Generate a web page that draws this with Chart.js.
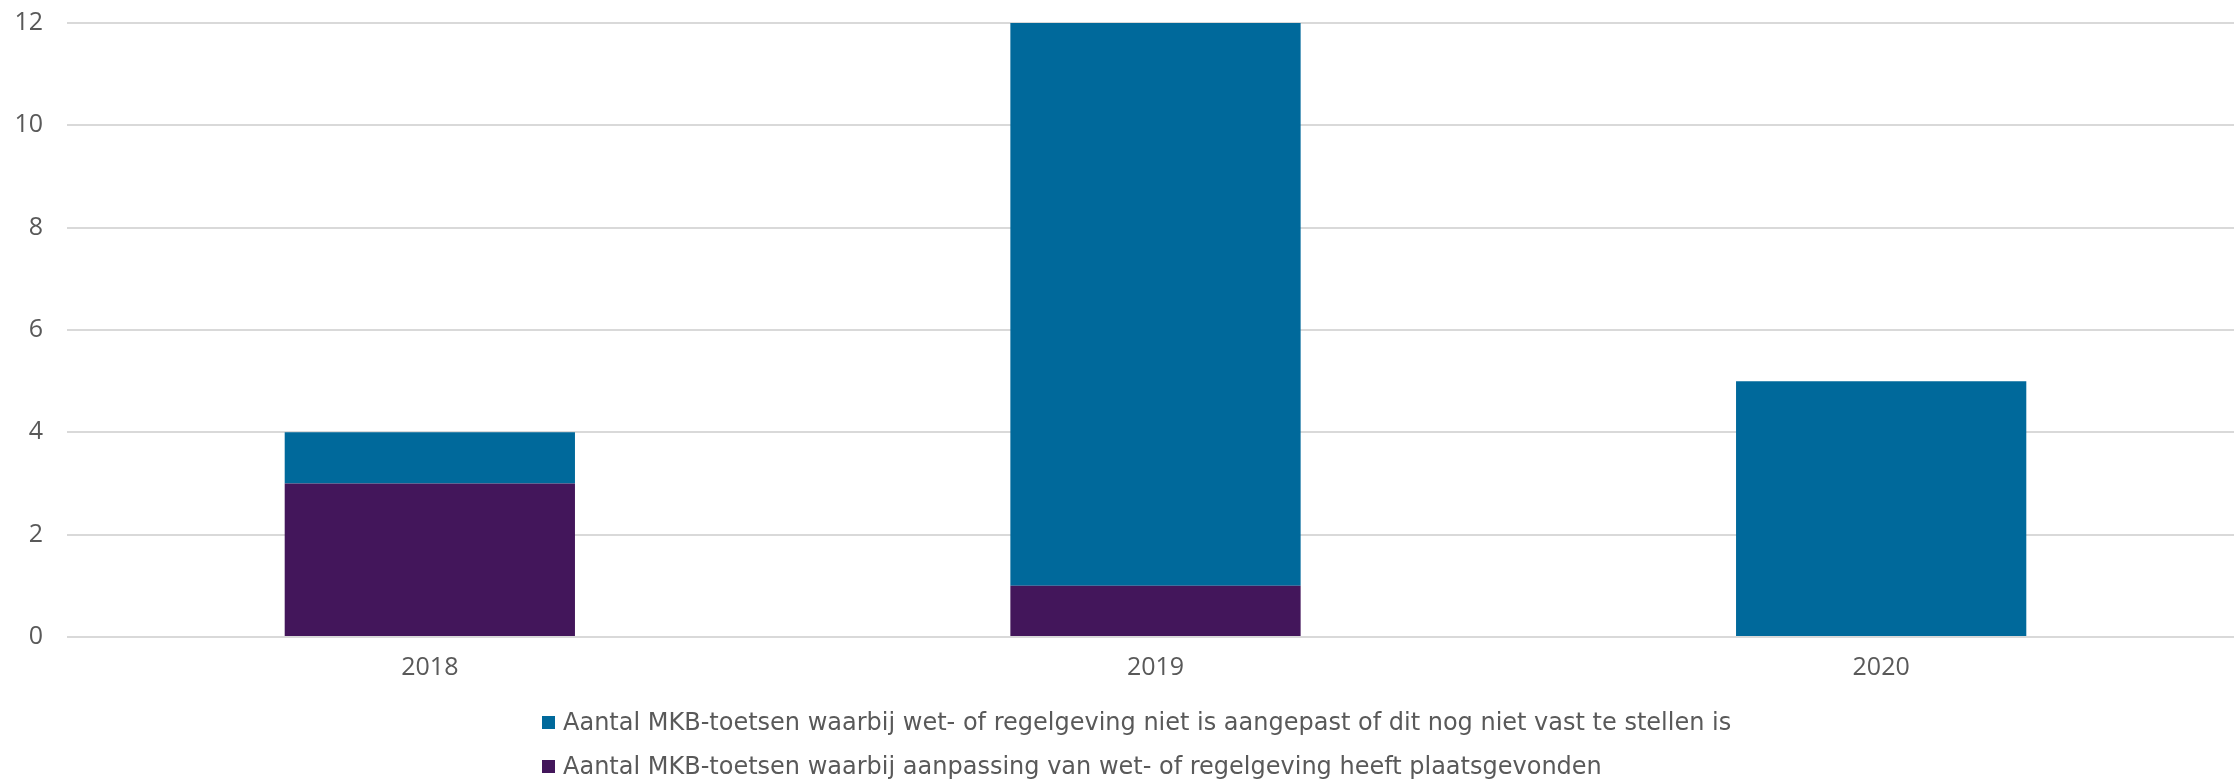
<!DOCTYPE html>
<html lang="nl">
<head>
<meta charset="utf-8">
<title>MKB-toetsen</title>
<script src="https://cdn.jsdelivr.net/npm/chart.js@4/dist/chart.umd.min.js"></script>
<style>
    html, body { margin: 0; padding: 0; background: #FFFFFF; overflow: hidden; }
    #wrap { position: relative; width: 2244px; height: 781px; }
    #legend {
        position: absolute;
        left: 542px;
        top: 700px;
        margin: 0;
        padding: 0;
        list-style: none;
        font-family: "DejaVu Sans", Verdana, sans-serif;
        font-size: 24px;
        color: #595959;
    }
    #legend li {
        display: flex;
        align-items: center;
        height: 44px;
        white-space: nowrap;
    }
    #legend .box {
        display: inline-block;
        width: 13px;
        height: 13px;
        margin-right: 8px;
        flex: none;
    }
</style>
</head>
<body>
<div id="wrap">
    <canvas id="mkb-chart" width="2244" height="781"></canvas>
    <ul id="legend"></ul>
</div>
<script>
// ================================================================
// DATA
// ================================================================
const years = ['2018', '2019', '2020'];
const aangepast = [3, 1, 0];       // aanpassing heeft plaatsgevonden
const nietAangepast = [1, 11, 5];  // niet aangepast / nog niet vast te stellen
const yTicks = [0, 2, 4, 6, 8, 10, 12];

const labelAangepast = 'Aantal MKB-toetsen waarbij aanpassing van wet- of regelgeving heeft plaatsgevonden';
const labelNiet = 'Aantal MKB-toetsen waarbij wet- of regelgeving niet is aangepast of dit nog niet vast te stellen is';

// ================================================================
// STIJL
// ================================================================
const TICK_FONT = '"Open Sans", "DejaVu Sans", sans-serif';
const TEXT_COLOR = '#595959';
const GRID_COLOR = '#D9D9D9';

// HTML-legenda: onder elkaar, links uitgelijnd (zoals in Excel)
const htmlLegend = {
    id: 'htmlLegend',
    afterUpdate(chart) {
        const list = document.getElementById('legend');
        list.innerHTML = '';
        const items = chart.options.plugins.legend.labels.generateLabels(chart).reverse();
        items.forEach(item => {
            const li = document.createElement('li');
            const box = document.createElement('span');
            box.className = 'box';
            box.style.background = item.fillStyle;
            const text = document.createElement('span');
            text.textContent = item.text;
            li.appendChild(box);
            li.appendChild(text);
            list.appendChild(li);
        });
    }
};

const ctx = document.getElementById('mkb-chart').getContext('2d');

new Chart(ctx, {
    type: 'bar',
    data: {
        labels: years,
        datasets: [
            {
                label: labelAangepast,
                data: aangepast,
                backgroundColor: '#43165B',
                borderWidth: 0
            },
            {
                label: labelNiet,
                data: nietAangepast,
                backgroundColor: '#00699B',
                borderWidth: 0
            }
        ]
    },
    options: {
        responsive: false,
        animation: false,
        devicePixelRatio: 1,
        layout: {
            padding: { top: 23, right: 0, left: 0, bottom: 81 }
        },
        datasets: {
            bar: {
                categoryPercentage: 1.0,
                barPercentage: 0.4
            }
        },
        scales: {
            x: {
                stacked: true,
                grid: { display: false, drawTicks: false },
                border: { display: false },
                ticks: {
                    color: TEXT_COLOR,
                    font: { family: TICK_FONT, size: 25 },
                    padding: 16
                },
                afterFit: (scale) => { scale.height = 63; }
            },
            y: {
                stacked: true,
                min: 0,
                max: 12,
                grid: {
                    color: GRID_COLOR,
                    lineWidth: 2,
                    drawTicks: true,
                    tickLength: 24,
                    tickColor: 'rgba(0,0,0,0)'
                },
                border: { display: false },
                afterBuildTicks: (scale) => {
                    scale.ticks = yTicks.map(v => ({ value: v }));
                },
                ticks: {
                    color: TEXT_COLOR,
                    font: { family: TICK_FONT, size: 25 },
                    padding: 0
                },
                afterFit: (scale) => { scale.width = 67; }
            }
        },
        plugins: {
            legend: { display: false },
            tooltip: { enabled: false }
        }
    },
    plugins: [htmlLegend]
});
</script>
</body>
</html>
